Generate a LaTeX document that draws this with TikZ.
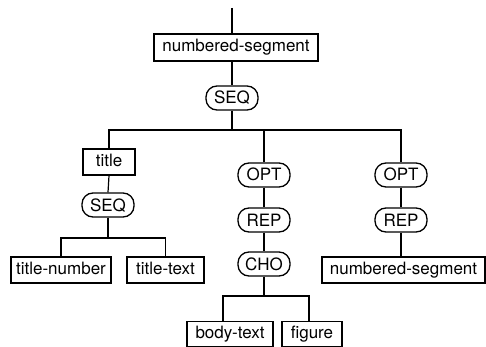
\documentclass[tikz,border=0pt]{standalone}
\usepackage{fontspec}
\setmainfont{TeX Gyre Heros}
\begin{document}
\begin{tikzpicture}[x=1pt,y=-1pt,
  every node/.style={font=\fontsize{17}{20}\selectfont},
  bx/.style={draw,line width=1.3pt,inner sep=0pt,minimum height=26pt,text height=12.5pt,text depth=3.5pt},
  rnd/.style={draw,line width=1.3pt,inner sep=0pt,rounded corners=11pt,minimum width=52pt,minimum height=24pt,text height=12.5pt,text depth=0.5pt},
  ln/.style={line width=1.2pt}]
\useasboundingbox (0,0) rectangle (486,347);
\coordinate (top) at (232,8);
\node[bx,minimum width=164pt,minimum height=27pt] (ns1) at (236,47.5) {numbered-segment};
\node[rnd] (seq1) at (232,98) {SEQ};
\node[bx,minimum width=52pt] (title) at (109,162) {title};
\node[rnd] (seq2) at (108,205) {SEQ};
\node[bx,minimum width=100pt] (tn) at (61,270) {title-number};
\node[bx,minimum width=77pt] (tt) at (165.5,270) {title-text};
\node[rnd] (opt1) at (264,175) {OPT};
\node[rnd] (rep1) at (264,220) {REP};
\node[rnd] (cho) at (264,264) {CHO};
\node[bx,minimum width=86pt,minimum height=25pt] (bt) at (230,334) {body-text};
\node[bx,minimum width=60pt,minimum height=25pt] (fig) at (312,334) {figure};
\node[rnd] (opt2) at (401,175) {OPT};
\node[rnd] (rep2) at (401,220) {REP};
\node[bx,minimum width=163pt] (ns2) at (403.5,270) {numbered-segment};
\coordinate (b1) at (232,130);
\coordinate (b2) at (108,238);
\coordinate (b3l) at (223,296);
\coordinate (b3r) at (309,296);
\draw[ln] (top) -- (top |- ns1.north);
\draw[ln] (ns1.south -| seq1) -- (seq1.north);
\draw[ln] (seq1.south) -- (b1);
\draw[ln] (title.north) |- (b1) -| (opt2.north);
\draw[ln] (opt1.north) -- (opt1.north |- b1);
\draw[ln] (title.south) -- (seq2.north);
\draw[ln] (seq2.south) -- (b2);
\draw[ln] (tn.north) |- (b2) -| (tt.north);
\draw[ln] (opt1.south) -- (rep1.north);
\draw[ln] (rep1.south) -- (cho.north);
\draw[ln] (cho.south) -- (cho.south |- b3l);
\draw[ln] (b3l |- bt.north) -- (b3l) -- (b3r) -- (b3r |- fig.north);
\draw[ln] (opt2.south) -- (rep2.north);
\draw[ln] (rep2.south) -- (rep2.south |- ns2.north);
\end{tikzpicture}
\end{document}
